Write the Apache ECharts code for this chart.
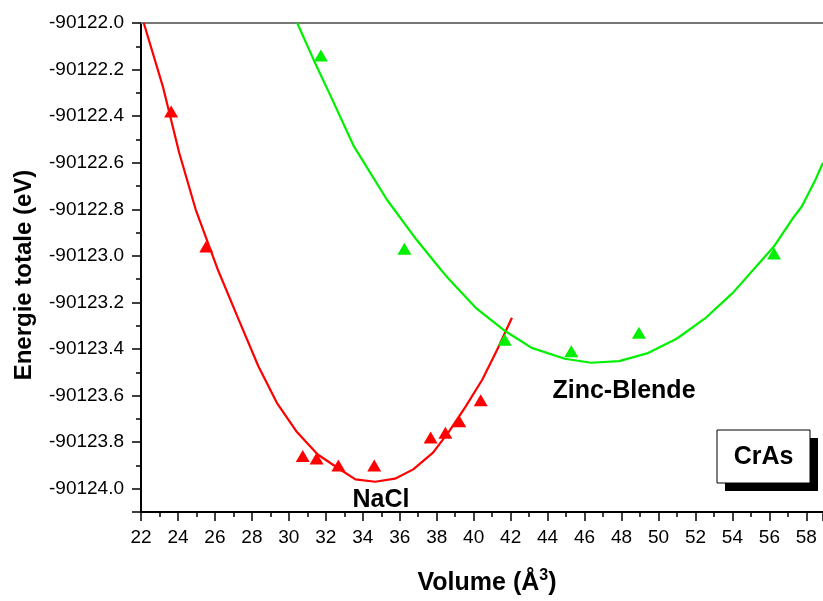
<!DOCTYPE html>
<html>
<head>
<meta charset="utf-8">
<script src="https://cdn.jsdelivr.net/npm/echarts@6/dist/echarts.min.js"></script>
<style>
html,body{margin:0;padding:0;background:#fff;}
#chart{width:823px;height:601px;}
</style>
</head>
<body>
<div id="chart"></div>
<script>
// Calculated points (triangles)
const naclVolume = [23.63, 25.53, 30.75, 31.50, 32.68, 34.62, 37.67, 38.47, 39.22, 40.38];
const naclEnergy = [-90122.38, -90122.96, -90123.86, -90123.87, -90123.90, -90123.90, -90123.78, -90123.76, -90123.71, -90123.62];
const zbVolume = [31.73, 36.25, 41.68, 45.28, 48.94, 56.25];
const zbEnergy = [-90122.14, -90122.97, -90123.36, -90123.41, -90123.33, -90122.99];

// Fitted curves
const naclFitVolume = [22.15, 23.18, 24.07, 24.96, 26.12, 27.28, 28.35, 29.35, 30.40, 31.56, 32.63, 33.60, 34.67, 35.74, 36.73, 37.80, 38.68, 39.58, 40.47, 41.27, 42.07];
const naclFitEnergy = [-90122.000, -90122.272, -90122.558, -90122.801, -90123.052, -90123.273, -90123.474, -90123.631, -90123.753, -90123.853, -90123.910, -90123.960, -90123.970, -90123.957, -90123.917, -90123.845, -90123.753, -90123.645, -90123.531, -90123.403, -90123.266];
const zbFitVolume = [30.45, 31.38, 32.27, 33.52, 35.30, 36.90, 38.15, 38.68, 40.11, 41.72, 43.14, 44.93, 46.35, 47.87, 49.38, 50.98, 52.50, 54.02, 55.62, 56.25, 57.22, 57.76, 58.45, 58.9];
const zbFitEnergy = [-90122.000, -90122.165, -90122.315, -90122.530, -90122.758, -90122.930, -90123.052, -90123.102, -90123.223, -90123.324, -90123.395, -90123.442, -90123.459, -90123.452, -90123.419, -90123.356, -90123.270, -90123.159, -90123.016, -90122.959, -90122.844, -90122.787, -90122.680, -90122.60];

// Axis settings
const xMin = 22, xMax = 58.9, xMajor = 2, xMinor = 1;
const yMin = -90124.1, yMax = -90122.0, yMajor = 0.2, yMinor = 0.1;

const zip = (a, b) => a.map((v, i) => [v, b[i]]);
const FONT = "'Liberation Sans', Arial, sans-serif";
const RED = '#ff0000', GREEN = '#00f000';

const chart = echarts.init(document.getElementById('chart'), null, {renderer: 'canvas'});

const option = {
  backgroundColor: '#ffffff',
  animation: false,
  grid: {left: 141, right: -8, top: 23, bottom: 89, containLabel: false},
  xAxis: [
    {
      type: 'value', position: 'bottom', min: xMin, max: xMax, interval: xMinor,
      axisLine: {show: true, lineStyle: {color: '#000', width: 2}},
      axisTick: {show: true, inside: false, length: 5, lineStyle: {color: '#000', width: 1.5}},
      axisLabel: {
        show: true, margin: 16, color: '#000', fontSize: 19, fontFamily: FONT,
        showMaxLabel: false,
        formatter: v => (Math.abs(Math.round(v)) % xMajor === 0 && Math.abs(v - Math.round(v)) < 1e-6) ? String(Math.round(v)) : ''
      },
      splitLine: {show: false}
    },
    {
      type: 'value', position: 'bottom', min: xMin, max: xMax, interval: xMajor,
      axisLine: {show: false},
      axisTick: {show: true, inside: false, length: 9, lineStyle: {color: '#000', width: 1.5}},
      axisLabel: {show: false},
      splitLine: {show: false}
    },
    {
      type: 'value', position: 'top', min: xMin, max: xMax,
      axisLine: {show: true, lineStyle: {color: '#777', width: 2}},
      axisTick: {show: false}, axisLabel: {show: false}, splitLine: {show: false}
    }
  ],
  yAxis: [
    {
      type: 'value', position: 'left', min: yMin, max: yMax, interval: yMinor,
      axisLine: {show: true, lineStyle: {color: '#000', width: 2}},
      axisTick: {show: true, inside: false, length: 5, lineStyle: {color: '#000', width: 1.5}},
      axisLabel: {
        show: true, margin: 17, color: '#000', fontSize: 19, fontFamily: FONT,
        formatter: v => {
          const t = Math.round(v * 10);
          return Math.abs(t) % 2 === 0 ? (t / 10).toFixed(1) : '';
        }
      },
      splitLine: {show: false}
    },
    {
      type: 'value', position: 'left', min: yMin, max: yMax, splitNumber: 10,
      minInterval: yMajor, maxInterval: yMajor,
      axisLine: {show: false},
      axisTick: {show: true, inside: false, length: 9, lineStyle: {color: '#000', width: 1.5}},
      axisLabel: {show: false},
      splitLine: {show: false}
    }
  ],
  series: [
    {
      name: 'NaCl fit', type: 'line', xAxisIndex: 0, yAxisIndex: 0,
      data: zip(naclFitVolume, naclFitEnergy), showSymbol: false, smooth: false, clip: true,
      lineStyle: {color: RED, width: 2.2}, z: 2
    },
    {
      name: 'Zinc-Blende fit', type: 'line', xAxisIndex: 0, yAxisIndex: 0,
      data: zip(zbFitVolume, zbFitEnergy), showSymbol: false, smooth: false, clip: true,
      lineStyle: {color: GREEN, width: 2.2}, z: 2
    },
    {
      name: 'NaCl', type: 'scatter', xAxisIndex: 0, yAxisIndex: 0,
      data: zip(naclVolume, naclEnergy), symbol: 'triangle', symbolSize: [14, 12],
      itemStyle: {color: RED, opacity: 1}, z: 3
    },
    {
      name: 'Zinc-Blende', type: 'scatter', xAxisIndex: 0, yAxisIndex: 0,
      data: zip(zbVolume, zbEnergy), symbol: 'triangle', symbolSize: [14, 12],
      itemStyle: {color: GREEN, opacity: 1}, z: 3
    }
  ],
  graphic: [
    {type: 'text', x: 24, y: 275, rotation: Math.PI / 2,
      style: {text: 'Energie totale (eV)', font: "bold 24px " + FONT, fill: '#000', align: 'center', verticalAlign: 'middle'}},
    {type: 'text', x: 487, y: 583,
      style: {
        text: '{a|Volume (Å}{s|3}{a|)}', align: 'center', verticalAlign: 'middle',
        rich: {
          a: {fontSize: 25, fontWeight: 'bold', fontFamily: FONT, fill: '#000', color: '#000', lineHeight: 30},
          s: {fontSize: 16, fontWeight: 'bold', fontFamily: FONT, fill: '#000', color: '#000', verticalAlign: 'top', lineHeight: 16}
        }
      }},
    {type: 'text', x: 381, y: 500,
      style: {text: 'NaCl', font: "bold 25px " + FONT, fill: '#000', align: 'center', verticalAlign: 'middle'}},
    {type: 'text', x: 624, y: 391,
      style: {text: 'Zinc-Blende', font: "bold 25px " + FONT, fill: '#000', align: 'center', verticalAlign: 'middle'}},
    {type: 'rect', shape: {x: 725, y: 438, width: 93, height: 53}, style: {fill: '#000'}},
    {type: 'rect', shape: {x: 717, y: 430, width: 93, height: 53}, style: {fill: '#fff', stroke: '#000', lineWidth: 1}},
    {type: 'text', x: 763.5, y: 457,
      style: {text: 'CrAs', font: "bold 25px " + FONT, fill: '#000', align: 'center', verticalAlign: 'middle'}}
  ]
};
chart.setOption(option);
</script>
</body>
</html>
